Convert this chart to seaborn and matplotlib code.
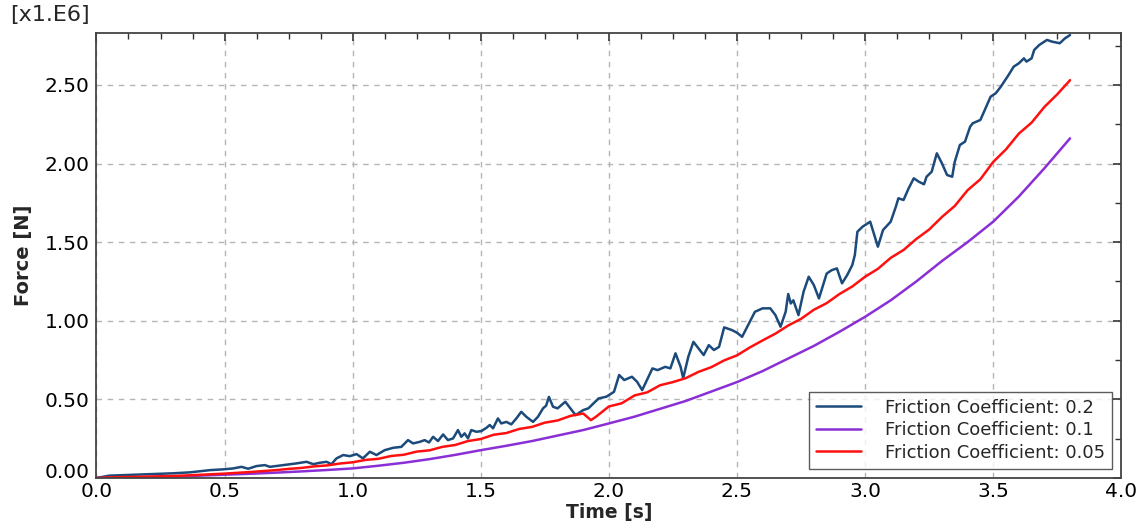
import numpy as np
import pandas as pd
import matplotlib
matplotlib.use("Agg")
import matplotlib.pyplot as plt
from matplotlib.ticker import MultipleLocator, FormatStrFormatter
import seaborn as sns

# ---- data (Force in 1e6 N) ----
labels = ["Friction Coefficient: 0.2", "Friction Coefficient: 0.1", "Friction Coefficient: 0.05"]
colors = ["#1c4a7a", "#8a2fd6", "#ff1010"]

t_blue = [0.000, 0.050, 0.100, 0.210, 0.300, 0.365, 0.443, 0.494, 0.534, 0.566, 0.592, 0.625, 0.657, 0.677,
          0.729, 0.781, 0.820, 0.846, 0.872, 0.898, 0.917, 0.937, 0.963, 0.989, 1.015, 1.040, 1.067, 1.093,
          1.125, 1.158, 1.190, 1.216, 1.236, 1.262, 1.281, 1.298, 1.314, 1.333, 1.353, 1.372, 1.392, 1.411,
          1.424, 1.437, 1.450, 1.463, 1.483, 1.502, 1.522, 1.535, 1.548, 1.567, 1.580, 1.600, 1.619, 1.639,
          1.658, 1.678, 1.704, 1.723, 1.743, 1.755, 1.766, 1.782, 1.800,
          1.83, 1.87, 1.90, 1.92, 1.96, 1.99, 2.02, 2.04, 2.06, 2.09, 2.11, 2.13, 2.17, 2.19, 2.22, 2.24,
          2.26, 2.28, 2.29, 2.31, 2.33, 2.35, 2.37, 2.39, 2.41, 2.43, 2.45, 2.48, 2.50, 2.52, 2.54, 2.57,
          2.60, 2.63, 2.65, 2.67, 2.69, 2.70, 2.71, 2.72, 2.74, 2.76, 2.78, 2.80, 2.82, 2.85, 2.87, 2.89,
          2.91, 2.93, 2.95, 2.96, 2.97, 2.99, 3.02, 3.04, 3.05, 3.07, 3.10, 3.12, 3.13, 3.15, 3.17, 3.19,
          3.21, 3.23, 3.24, 3.26, 3.28, 3.30, 3.32, 3.34, 3.35, 3.37, 3.39, 3.41, 3.42, 3.45, 3.47, 3.49,
          3.51, 3.53, 3.56, 3.58, 3.60, 3.62, 3.63, 3.65, 3.66, 3.68, 3.71, 3.73, 3.76, 3.78, 3.80]
f_blue = [0.000, 0.015, 0.018, 0.025, 0.030, 0.036, 0.050, 0.055, 0.061, 0.071, 0.059, 0.076, 0.082, 0.071,
          0.082, 0.093, 0.103, 0.088, 0.097, 0.103, 0.088, 0.125, 0.146, 0.139, 0.152, 0.125, 0.167, 0.146,
          0.177, 0.192, 0.198, 0.241, 0.220, 0.230, 0.241, 0.226, 0.262, 0.235, 0.277, 0.241, 0.252, 0.305,
          0.262, 0.284, 0.252, 0.305, 0.294, 0.298, 0.319, 0.337, 0.316, 0.379, 0.347, 0.357, 0.341, 0.379,
          0.421, 0.389, 0.357, 0.389, 0.443, 0.460, 0.516, 0.453, 0.443,
          0.485, 0.400, 0.432, 0.443, 0.506, 0.517, 0.548, 0.655, 0.623, 0.644, 0.612, 0.559, 0.697, 0.686, 0.707, 0.697,
          0.793, 0.707, 0.634, 0.771, 0.866, 0.824, 0.782, 0.845, 0.814, 0.834, 0.958, 0.941, 0.924, 0.898, 0.962, 1.057,
          1.079, 1.079, 1.036, 0.962, 1.057, 1.170, 1.110, 1.130, 1.036, 1.185, 1.280, 1.227, 1.142, 1.300, 1.322, 1.333,
          1.238, 1.290, 1.354, 1.418, 1.566, 1.598, 1.630, 1.524, 1.471, 1.577, 1.630, 1.725, 1.779, 1.768, 1.842, 1.906,
          1.884, 1.868, 1.916, 1.948, 2.065, 2.001, 1.927, 1.916, 2.011, 2.118, 2.139, 2.234, 2.256, 2.277, 2.351, 2.425,
          2.447, 2.489, 2.563, 2.616, 2.637, 2.669, 2.648, 2.669, 2.722, 2.754, 2.786, 2.775, 2.765, 2.796, 2.817]

t_purple = [0.0, 0.1, 0.2, 0.3, 0.4, 0.5, 0.6, 0.7, 0.8, 0.9, 1.0, 1.1, 1.2, 1.3, 1.4, 1.5, 1.6, 1.7, 1.8, 1.9,
            2.0, 2.1, 2.2, 2.3, 2.4, 2.5, 2.6, 2.7, 2.8, 2.9, 3.0, 3.1, 3.2, 3.3, 3.4, 3.5, 3.6, 3.7, 3.8]
f_purple = [0.000, 0.003, 0.006, 0.010, 0.015, 0.021, 0.027, 0.034, 0.042, 0.051, 0.061, 0.078, 0.097, 0.120, 0.147,
            0.177, 0.205, 0.235, 0.270, 0.305, 0.347, 0.390, 0.440, 0.490, 0.550, 0.610, 0.680, 0.760, 0.840, 0.930,
            1.025, 1.130, 1.250, 1.380, 1.500, 1.630, 1.790, 1.970, 2.160]

t_red = [0.00, 0.05, 0.10, 0.15, 0.20, 0.25, 0.30, 0.35, 0.40, 0.45, 0.50, 0.55, 0.60, 0.65, 0.70, 0.75, 0.80, 0.85,
         0.90, 0.95, 1.00, 1.05, 1.10, 1.15, 1.20, 1.25, 1.30, 1.35, 1.40, 1.45, 1.50, 1.55, 1.60, 1.65, 1.70, 1.75,
         1.80, 1.85, 1.90, 1.93, 1.95, 2.00, 2.05, 2.10, 2.15, 2.20, 2.25, 2.30, 2.35, 2.40, 2.45, 2.50, 2.55, 2.60,
         2.65, 2.70, 2.75, 2.80, 2.85, 2.90, 2.95, 3.00, 3.05, 3.10, 3.15, 3.20, 3.25, 3.30, 3.35, 3.40, 3.45, 3.50,
         3.55, 3.60, 3.65, 3.70, 3.75, 3.80]
f_red = [0.000, 0.004, 0.006, 0.007, 0.009, 0.011, 0.013, 0.016, 0.020, 0.024, 0.028, 0.033, 0.038, 0.044, 0.050,
         0.058, 0.064, 0.074, 0.080, 0.092, 0.100, 0.115, 0.122, 0.140, 0.148, 0.168, 0.176, 0.198, 0.210, 0.235,
         0.248, 0.275, 0.286, 0.312, 0.325, 0.352, 0.366, 0.395, 0.410, 0.368, 0.390, 0.455, 0.475, 0.525, 0.545,
         0.590, 0.610, 0.635, 0.675, 0.705, 0.748, 0.780, 0.830, 0.875, 0.918, 0.970, 1.012, 1.070, 1.112, 1.170,
         1.218, 1.280, 1.330, 1.400, 1.450, 1.520, 1.580, 1.660, 1.730, 1.830, 1.900, 2.010, 2.090, 2.190, 2.260,
         2.360, 2.440, 2.530]

x_ticks = [0.0, 0.5, 1.0, 1.5, 2.0, 2.5, 3.0, 3.5, 4.0]
y_ticks = [0.00, 0.50, 1.00, 1.50, 2.00, 2.50]

df = pd.concat([
    pd.DataFrame({"Time": t_blue, "Force": f_blue, "series": labels[0]}),
    pd.DataFrame({"Time": t_purple, "Force": f_purple, "series": labels[1]}),
    pd.DataFrame({"Time": t_red, "Force": f_red, "series": labels[2]}),
], ignore_index=True)

sns.set_style("white")
plt.rcParams["font.family"] = ["DejaVu Sans"]

fig = plt.figure(figsize=(11.43, 5.29), dpi=100)
ax = fig.add_axes([0.0844, 0.0964, 0.8966, 0.8412])

sns.lineplot(data=df, x="Time", y="Force", hue="series", hue_order=labels,
             palette=dict(zip(labels, colors)), linewidth=1.8, ax=ax,
             estimator=None, sort=False)

ax.set_xlim(0, 4.0)
ax.set_ylim(0, 2.83)
ax.set_xticks(x_ticks)
ax.set_yticks(y_ticks)
ax.xaxis.set_minor_locator(MultipleLocator(0.125))
ax.yaxis.set_minor_locator(MultipleLocator(0.25))
ax.xaxis.set_major_formatter(FormatStrFormatter("%.1f"))
ax.yaxis.set_major_formatter(FormatStrFormatter("%.2f"))
ax.tick_params(which="both", direction="in", top=True, right=True, colors="#333333",
               labelcolor="black", labelsize=14.5)
ax.tick_params(which="major", length=6, width=1.2)
ax.tick_params(axis="y", which="major", pad=5)
ax.tick_params(axis="x", which="major", pad=3)
ax.tick_params(which="minor", length=4, width=1.0)
ax.grid(True, which="major", linestyle=(0, (4, 4)), color="#b5b5b5", linewidth=1.0)
for s in ax.spines.values():
    s.set_color("#444444")
    s.set_linewidth(1.3)

fig.canvas.draw()
ylabels = ax.get_yticklabels()
ylabels[0].set_va("baseline")

ax.set_xlabel("Time [s]", fontsize=13.5, fontweight="bold", labelpad=1)
ax.set_ylabel("Force [N]", fontsize=14, fontweight="bold", labelpad=8)
fig.text(10 / 1143, 0.99, "[x1.E6]", fontsize=16, ha="left", va="top")

leg = ax.legend(loc="lower right", fontsize=13, frameon=True, fancybox=False,
                edgecolor="#333333", handlelength=2.5, handletextpad=1.3,
                borderaxespad=0.5, labelspacing=0.25, borderpad=0.4)
leg.get_frame().set_linewidth(1.0)

fig.savefig("out.png", dpi=100)
